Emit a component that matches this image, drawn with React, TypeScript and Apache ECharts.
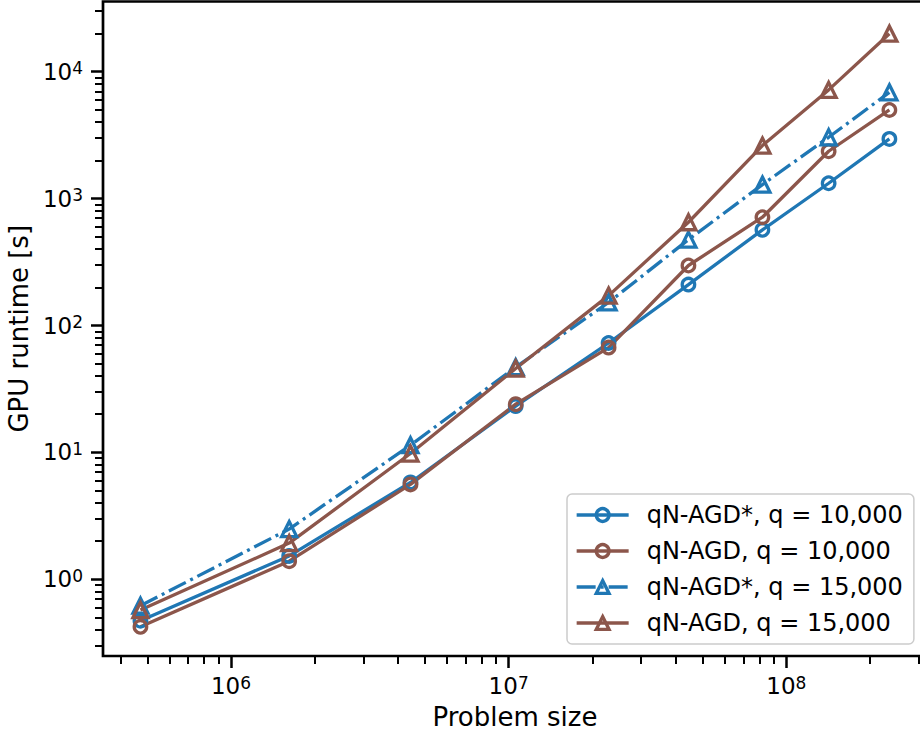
import React, { useEffect, useRef } from "react";
import * as echarts from "echarts";

// Problem sizes (x) and GPU runtimes in seconds (y)
const PROBLEM_SIZES = [4.72e5, 1.62e6, 4.43e6, 1.06e7, 2.29e7, 4.44e7, 8.2e7, 1.42e8, 2.35e8];
const STAR_Q10K = [0.472, 1.53, 5.8, 23.2, 72.8, 210, 567, 1320, 2950];
const AGD_Q10K = [0.423, 1.39, 5.6, 24, 67, 297, 713, 2360, 4990];
const STAR_Q15K = [0.62, 2.49, 11.4, 47, 152, 475, 1289, 3040, 6870];
const AGD_Q15K = [0.573, 1.93, 9.8, 45.8, 172, 651, 2614, 7180, 19900];

const SERIES_NAMES = [
  "qN-AGD*, q = 10,000",
  "qN-AGD, q = 10,000",
  "qN-AGD*, q = 15,000",
  "qN-AGD, q = 15,000",
];

// Tick values
const X_MAJOR = [1e6, 1e7, 1e8];
const X_MINOR = [
  4e5, 5e5, 6e5, 7e5, 8e5, 9e5,
  2e6, 3e6, 4e6, 5e6, 6e6, 7e6, 8e6, 9e6,
  2e7, 3e7, 4e7, 5e7, 6e7, 7e7, 8e7, 9e7,
  2e8, 3e8,
];
const Y_MAJOR = [1, 10, 100, 1000, 10000];
const Y_MINOR = [
  0.3, 0.4, 0.5, 0.6, 0.7, 0.8, 0.9,
  2, 3, 4, 5, 6, 7, 8, 9,
  20, 30, 40, 50, 60, 70, 80, 90,
  200, 300, 400, 500, 600, 700, 800, 900,
  2000, 3000, 4000, 5000, 6000, 7000, 8000, 9000,
  20000, 30000,
];

const X_MIN = 346000;
const X_MAX = 3.21e8;
const Y_MIN = 0.249;
const Y_MAX = 35700;

const BLUE = "#1f77b4";
const BROWN = "#8c564b";
const FONT = "DejaVu Sans";

const powLabel = (v: number) => `{a|10}{b|${Math.round(Math.log10(v))}}`;
const richPow = {
  a: { fontSize: 23, lineHeight: 24, fontFamily: FONT, color: "#000" },
  b: { fontSize: 17, lineHeight: 12, verticalAlign: "top", fontFamily: FONT, color: "#000" },
};

function makeSeries(name: string, ys: number[], color: string, symbol: string, size: number, dash: any) {
  return {
    name,
    type: "line",
    xAxisIndex: 0,
    yAxisIndex: 0,
    data: PROBLEM_SIZES.map((x, i) => [x, ys[i]]),
    color,
    symbol,
    symbolSize: size,
    showAllSymbol: true,
    silent: true,
    lineStyle: { color, width: 3.3, type: dash },
    itemStyle: { color: "rgba(255,255,255,0)", borderColor: color, borderWidth: 3.3 },
    emphasis: { disabled: true },
  };
}

export default function App() {
  const ref = useRef<HTMLDivElement>(null);
  useEffect(() => {
    document.body.style.margin = "0";
    const chart = echarts.init(ref.current!, null, { renderer: "svg" });
    const option: any = {
      animation: false,
      backgroundColor: "#fff",
      grid: {
        left: 103,
        top: 1.5,
        right: -7,
        bottom: 76,
        show: true,
        borderColor: "#000",
        borderWidth: 2.7,
        backgroundColor: "transparent",
        outerBoundsMode: "none",
        containLabel: false,
      },
      legend: {
        orient: "vertical",
        left: 567,
        top: 494,
        padding: [8, 11, 8, 8],
        itemWidth: 52,
        itemHeight: 16,
        itemGap: 10,
        backgroundColor: "rgba(255,255,255,0.8)",
        borderColor: "#cccccc",
        borderWidth: 1.5,
        borderRadius: 5,
        selectedMode: false,
        lineStyle: { width: 3.3 },
        itemStyle: { borderWidth: 3.3 },
        textStyle: { fontSize: 24, lineHeight: 26, fontFamily: FONT, color: "#000", padding: [0, 0, 0, 13] },
        data: SERIES_NAMES,
      },
      xAxis: [
        {
          type: "log",
          logBase: 10,
          min: X_MIN,
          max: X_MAX,
          position: "bottom",
          name: "Problem size",
          nameLocation: "middle",
          nameGap: 48,
          nameTextStyle: { fontSize: 26, fontFamily: FONT, color: "#000" },
          axisLine: { show: false },
          splitLine: { show: false },
          axisTick: { show: true, length: 12, customValues: X_MAJOR, lineStyle: { color: "#000", width: 2.5 } },
          axisLabel: { show: true, margin: 18, customValues: X_MAJOR, formatter: powLabel, rich: richPow },
        },
        {
          type: "log",
          logBase: 10,
          min: X_MIN,
          max: X_MAX,
          position: "bottom",
          axisLine: { show: false },
          splitLine: { show: false },
          axisTick: { show: true, length: 8, customValues: X_MINOR, lineStyle: { color: "#000", width: 2 } },
          axisLabel: { show: false },
        },
      ],
      yAxis: [
        {
          type: "log",
          logBase: 10,
          min: Y_MIN,
          max: Y_MAX,
          position: "left",
          name: "GPU runtime [s]",
          nameLocation: "middle",
          nameGap: 64,
          nameTextStyle: { fontSize: 26, fontFamily: FONT, color: "#000" },
          axisLine: { show: false },
          splitLine: { show: false },
          axisTick: { show: true, length: 12, customValues: Y_MAJOR, lineStyle: { color: "#000", width: 2.5 } },
          axisLabel: { show: true, margin: 20, customValues: Y_MAJOR, formatter: powLabel, rich: richPow },
        },
        {
          type: "log",
          logBase: 10,
          min: Y_MIN,
          max: Y_MAX,
          position: "left",
          axisLine: { show: false },
          splitLine: { show: false },
          axisTick: { show: true, length: 8, customValues: Y_MINOR, lineStyle: { color: "#000", width: 2 } },
          axisLabel: { show: false },
        },
      ],
      series: [
        makeSeries(SERIES_NAMES[0], STAR_Q10K, BLUE, "circle", 12.5, "solid"),
        makeSeries(SERIES_NAMES[1], AGD_Q10K, BROWN, "circle", 12.5, "solid"),
        makeSeries(SERIES_NAMES[2], STAR_Q15K, BLUE, "triangle", 15, [19, 5, 3, 5]),
        makeSeries(SERIES_NAMES[3], AGD_Q15K, BROWN, "triangle", 15, "solid"),
      ],
    };
    chart.setOption(option);
    return () => chart.dispose();
  }, []);
  return (
    <div style={{ position: "absolute", left: 0, top: 0, width: 920, height: 732, overflow: "hidden" }}>
      <div ref={ref} style={{ width: 920, height: 732 }} />
    </div>
  );
}
